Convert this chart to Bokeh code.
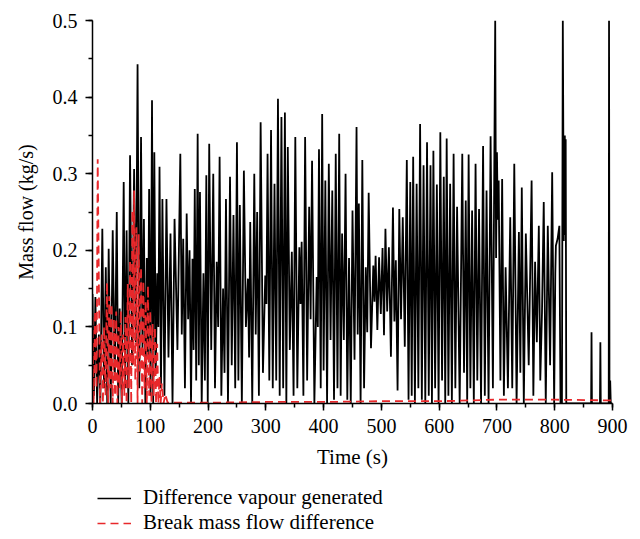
from bokeh.plotting import figure
from bokeh.layouts import column
from bokeh.models import Range1d, SingleIntervalTicker, NumeralTickFormatter, Legend, LegendItem
from bokeh.embed import file_html
from bokeh.resources import INLINE

# Difference vapour generated (kg/s) vs time (s)
black_time = [
    0, 2.5, 5, 8, 11, 13.5, 17, 20, 23, 25.5,
    28, 31.5, 35, 38.5, 42, 44.5, 47, 50.5, 54, 56.5,
    59, 62, 65, 68.5, 72, 75, 78, 81, 84, 86.5,
    89, 91.5, 94, 96, 98, 100.5, 103, 105, 107, 109.5,
    112, 114, 116, 118.5, 121, 124.5, 128, 131.5, 135, 138.5,
    142, 147, 152, 154.5, 157, 160, 163, 165.5, 168, 170.5,
    173, 175, 177, 179.5, 182, 184, 186, 189, 192, 194.5,
    197, 199.5, 202, 205.5, 209, 212, 215, 217.5, 220, 223,
    226, 228.5, 231, 234.5, 238, 241, 244, 247, 250, 252.5,
    255, 258.5, 262, 265.5, 269, 271, 273, 276.5, 280, 282.5,
    285, 288, 291, 295, 299, 301, 303, 306, 309, 312,
    315, 318, 321, 324, 327, 330, 333, 335.5, 338, 341.5,
    345, 348, 351, 354.5, 358, 360, 362, 365, 368, 371.5,
    375, 377.5, 380, 384, 388, 390, 392, 395, 397.5, 400,
    403, 406, 409, 412, 415, 418, 421, 424, 427, 429.5,
    432, 435, 438, 441, 444, 447, 450, 453.5, 457, 459,
    461, 464, 467, 470, 473, 475.5, 478, 482, 486, 488,
    490, 493, 496, 499, 502, 504.5, 507, 510, 513, 516.5,
    520, 522.5, 525, 528, 531, 534, 537, 540.5, 544, 547,
    550, 552.5, 555, 558, 561, 564, 567, 570, 573, 576,
    579, 582, 585, 587.5, 590, 593, 596, 599, 602, 605,
    608, 610.5, 613, 616, 619, 622, 625, 628, 631, 635.5,
    640, 643, 646, 648.5, 651, 654, 657, 660, 663, 666,
    669, 672.5, 676, 679, 682, 685.5, 689, 693, 697, 698.5,
    700, 701.5, 703, 706, 709, 712, 715, 719, 723, 726.5,
    730, 734, 738, 740.5, 743, 746.5, 750, 755, 760, 763,
    766, 769, 772.5, 775, 778, 781, 784.5, 788, 792, 795.6,
    799, 801, 802, 805, 808, 810, 812.5, 814, 815.7, 816.5,
    817, 817.5, 818.3, 819, 820, 863, 863.7, 864.4, 878.3, 879,
    879.7, 893.5, 894, 894.8, 896, 897, 900,
]
black_flow = [
    0.143, 0.01, 0.139, 0.0, 0.09, 0.0, 0.228, 0.02, 0.178, 0.0,
    0.202, 0.0, 0.226, 0.03, 0.25, 0.0, 0.124, 0.0, 0.289, 0.02,
    0.226, 0.0, 0.324, 0.05, 0.306, 0.08, 0.443, 0.02, 0.348, 0.07,
    0.241, 0.0, 0.19, 0.06, 0.28, 0.01, 0.396, 0.0, 0.328, 0.04,
    0.17, 0.1, 0.309, 0.02, 0.267, 0.01, 0.267, 0.06, 0.222, 0.0,
    0.241, 0.07, 0.326, 0.09, 0.215, 0.02, 0.248, 0.11, 0.2, 0.0,
    0.189, 0.07, 0.28, 0.03, 0.352, 0.05, 0.276, 0.0, 0.17, 0.03,
    0.298, 0.0, 0.339, 0.07, 0.3, 0.02, 0.185, 0.1, 0.322, 0.01,
    0.15, 0.04, 0.267, 0.0, 0.296, 0.05, 0.246, 0.02, 0.341, 0.03,
    0.259, 0.0, 0.304, 0.1, 0.163, 0.06, 0.237, 0.0, 0.3, 0.09,
    0.25, 0.01, 0.367, 0.04, 0.167, 0.13, 0.326, 0.03, 0.357, 0.02,
    0.287, 0.03, 0.398, 0.01, 0.374, 0.02, 0.38, 0.0, 0.335, 0.07,
    0.198, 0.01, 0.348, 0.02, 0.204, 0.13, 0.211, 0.01, 0.348, 0.03,
    0.257, 0.11, 0.317, 0.0, 0.165, 0.1, 0.332, 0.02, 0.378, 0.043,
    0.291, 0.0, 0.313, 0.083, 0.278, 0.005, 0.326, 0.02, 0.352, 0.01,
    0.222, 0.083, 0.3, 0.005, 0.19, 0.0, 0.252, 0.057, 0.361, 0.09,
    0.261, 0.0, 0.318, 0.02, 0.178, 0.093, 0.275, 0.072, 0.18, 0.133,
    0.193, 0.096, 0.191, 0.117, 0.203, 0.089, 0.228, 0.12, 0.204, 0.061,
    0.256, 0.107, 0.187, 0.017, 0.254, 0.11, 0.243, 0.074, 0.318, 0.005,
    0.289, 0.01, 0.322, 0.0, 0.287, 0.02, 0.365, 0.005, 0.311, 0.0,
    0.341, 0.01, 0.311, 0.0, 0.33, 0.02, 0.286, 0.0, 0.354, 0.03,
    0.296, 0.0, 0.346, 0.01, 0.287, 0.0, 0.326, 0.02, 0.257, 0.0,
    0.326, 0.04, 0.265, 0.0, 0.325, 0.02, 0.252, 0.0, 0.313, 0.03,
    0.254, 0.0, 0.336, 0.01, 0.278, 0.0, 0.349, 0.02, 0.5, 0.19,
    0.328, 0.24, 0.291, 0.03, 0.293, 0.01, 0.178, 0.02, 0.243, 0.02,
    0.313, 0.0, 0.224, 0.04, 0.282, 0.0, 0.222, 0.05, 0.291, 0.01,
    0.185, 0.08, 0.232, 0.03, 0.12, 0.263, 0.0, 0.232, 0.05, 0.302,
    0.0, 0.17, 0.206, 0.215, 0.232, 0.0, 0.0, 0.5, 0.212, 0.34,
    0.22, 0.35, 0.22, 0.345, 0.0, 0.0, 0.093, 0.0, 0.0, 0.08,
    0.0, 0.0, 0.5, 0.0, 0.03, 0.0, 0.0,
]

# Break mass flow difference (kg/s) vs time (s)
red_time = [
    0, 2, 4.5, 7, 9, 13, 16, 18, 20, 22.5,
    25, 27, 29, 31, 33, 35, 37, 39, 41, 43,
    45, 47, 49, 51, 53, 55, 57, 59, 61, 63,
    65, 67, 69, 70.5, 72, 74, 76, 78, 80, 82,
    84, 86, 88, 90, 92, 94, 96, 98, 100, 102,
    104, 106, 108, 110, 112, 114, 116, 118, 120, 123,
    126, 130, 200, 300, 400, 500, 600, 700, 800, 900,
]
red_flow = [
    0.113, 0.0, 0.121, 0.02, 0.319, 0.0, 0.09, 0.0, 0.1, 0.01,
    0.158, 0.0, 0.14, 0.02, 0.13, 0.0, 0.11, 0.01, 0.12, 0.0,
    0.1, 0.02, 0.121, 0.0, 0.09, 0.01, 0.113, 0.0, 0.156, 0.02,
    0.187, 0.0, 0.252, 0.05, 0.278, 0.03, 0.23, 0.0, 0.221, 0.04,
    0.178, 0.0, 0.16, 0.02, 0.134, 0.0, 0.154, 0.01, 0.121, 0.0,
    0.104, 0.01, 0.1, 0.0, 0.078, 0.0, 0.035, 0.0, 0.026, 0.0,
    0.012, 0.001, 0.001, 0.002, 0.002, 0.003, 0.003, 0.005, 0.005, 0.004,
]

legend_labels = ["Difference vapour generated", "Break mass flow difference"]
FONT = "Liberation Serif"
BLACK = "black"
RED = "#e8282b"

p = figure(width=640, height=480, output_backend="svg", toolbar_location=None,
           x_range=Range1d(0, 900), y_range=Range1d(0, 0.5),
           min_border_left=92, min_border_right=28, min_border_top=20,
           min_border_bottom=77)
p.xgrid.visible = False
p.ygrid.visible = False
p.outline_line_color = None

p.line(black_time, black_flow, line_color=BLACK, line_width=1.8)
p.line(red_time, red_flow, line_color=RED, line_width=1.8, line_dash="8 5")

p.xaxis.ticker = SingleIntervalTicker(interval=100, num_minor_ticks=2)
p.yaxis.ticker = SingleIntervalTicker(interval=0.1, num_minor_ticks=2)
p.yaxis.formatter = NumeralTickFormatter(format="0.0")

for ax in (p.xaxis[0], p.yaxis[0]):
    ax.axis_line_width = 1.5
    ax.major_tick_line_width = 1.5
    ax.minor_tick_line_width = 1.5
    ax.major_tick_in = 0
    ax.major_tick_out = 7
    ax.minor_tick_in = 0
    ax.minor_tick_out = 4
    ax.major_label_text_font = FONT
    ax.major_label_text_font_size = "20px"
    ax.major_label_text_color = "black"
    ax.axis_label_text_font = FONT
    ax.axis_label_text_font_style = "normal"
    ax.axis_label_text_color = "black"
    ax.major_label_standoff = 8

p.xaxis.axis_label = "Time (s)"
p.yaxis.axis_label = "Mass flow (kg/s)"
p.xaxis.axis_label_text_font_size = "21px"
p.yaxis.axis_label_text_font_size = "20px"
p.xaxis.axis_label_standoff = 9
p.yaxis.axis_label_standoff = 13

# legend panel below the chart (its ranges keep the proxy lines out of view)
lg = figure(width=640, height=59, output_backend="svg", toolbar_location=None,
            x_range=Range1d(-20, -10), y_range=Range1d(-20, -10),
            min_border_left=0, min_border_right=0, min_border_top=0,
            min_border_bottom=0, x_axis_type=None, y_axis_type=None)
lg.xgrid.visible = False
lg.ygrid.visible = False
lg.outline_line_color = None
k1 = lg.line(black_time, black_flow, line_color=BLACK, line_width=1.6)
k2 = lg.line(red_time, red_flow, line_color=RED, line_width=1.6, line_dash="8 5")
legend = Legend(items=[LegendItem(label=legend_labels[0], renderers=[k1]),
                       LegendItem(label=legend_labels[1], renderers=[k2])],
                location=(5, 4), margin=0, padding=0, spacing=0,
                glyph_width=34, glyph_height=20, label_height=20,
                label_standoff=12, label_text_font=FONT,
                label_text_font_size="21px", label_text_color="black",
                background_fill_alpha=0, border_line_color=None)
lg.add_layout(legend)

open("out.html", "w").write(file_html(column(p, lg, spacing=0), INLINE))
